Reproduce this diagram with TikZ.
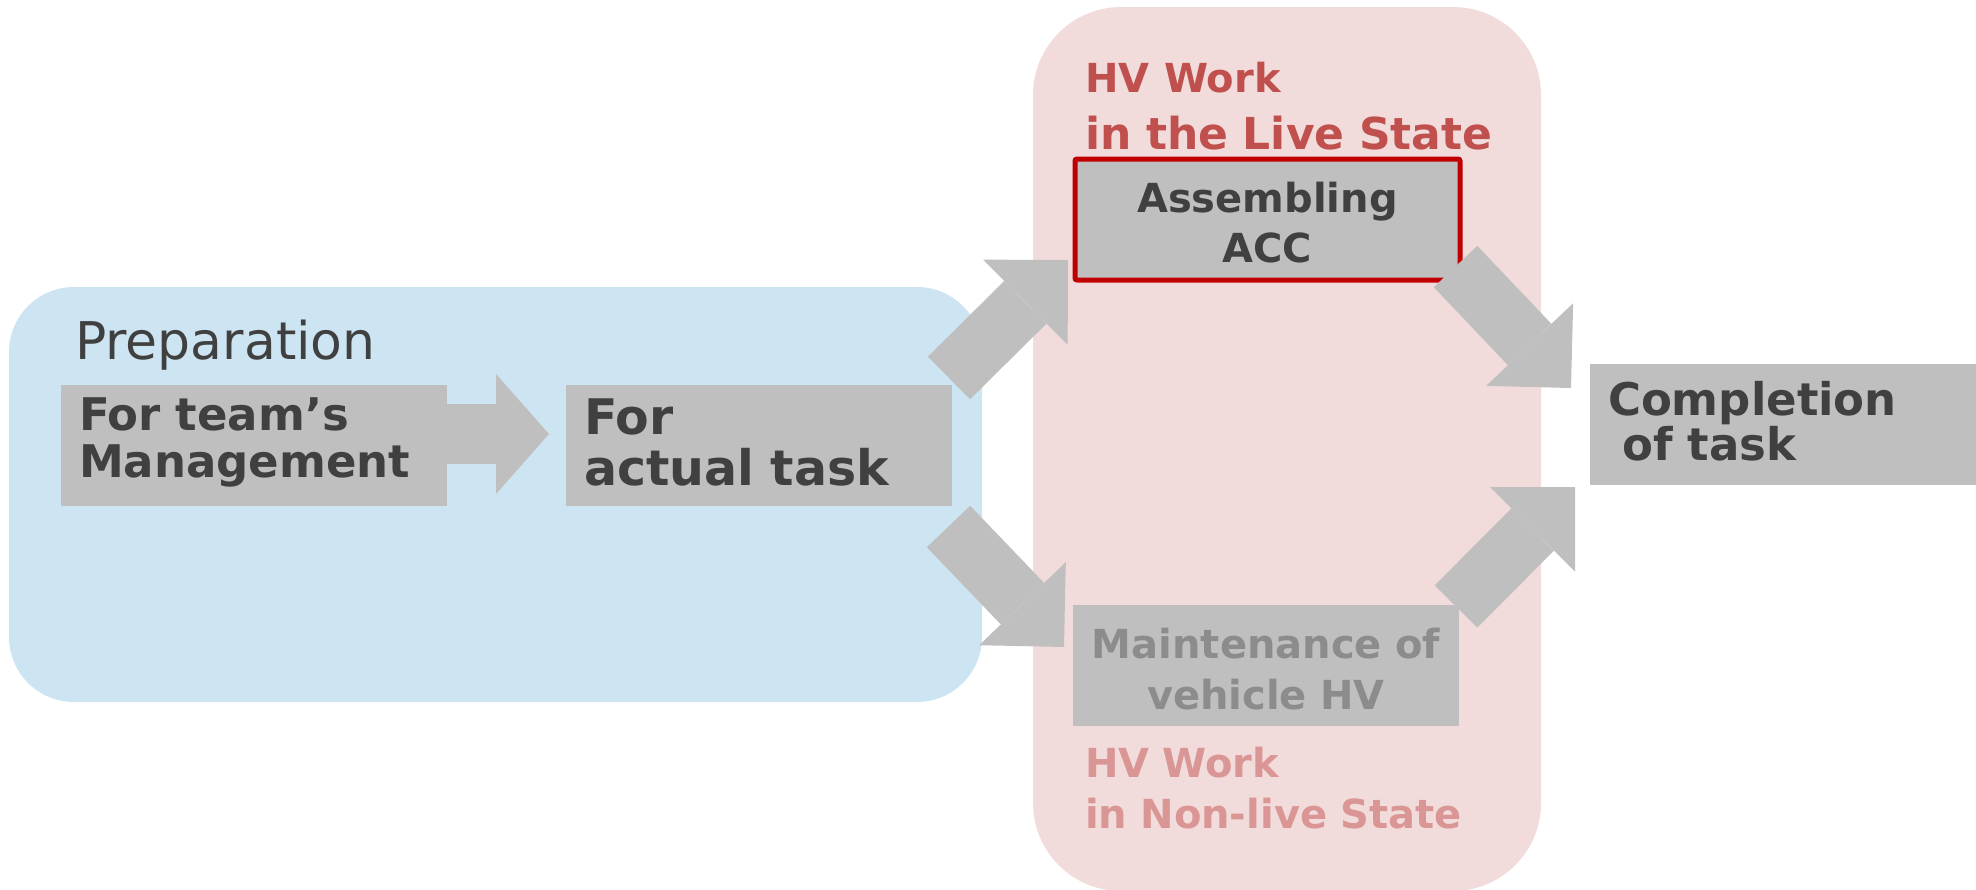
\documentclass[tikz,border=0pt]{standalone}
\usepackage{fontspec}
\setmainfont{DejaVu Sans}
\usetikzlibrary{arrows.meta,positioning,calc}
\definecolor{skyfill}{HTML}{CDE5F2}
\definecolor{rosefill}{HTML}{F2DCDB}
\definecolor{boxgray}{HTML}{BFBFBF}
\definecolor{ink}{HTML}{404040}
\definecolor{livered}{HTML}{C0504D}
\definecolor{deadred}{HTML}{D99694}
\definecolor{mutedtext}{HTML}{8C8C8C}
\definecolor{accred}{HTML}{C00000}
\newcommand{\fsz}[2]{\bfseries\fontsize{#1}{#2}\selectfont}
\tikzset{area/.style={inner sep=0pt,outer sep=0pt,anchor=north west},graybox/.style={fill=boxgray,inner ysep=0pt,inner xsep=18pt,outer sep=0pt,anchor=north west,text=ink},title/.style={inner sep=0pt,outer sep=0pt,anchor=base west,text width=460pt,align=left},bigarrow/.style={draw=boxgray,line width=60pt,-{Triangle[length=#1,width=120pt,line width=0pt]}},bigarrow/.default=60pt}

\begin{document}
\begin{tikzpicture}[x=1pt,y=-1pt]
\useasboundingbox (0,0) rectangle (1976,889);
% the two phases
\node[area,fill=skyfill,rounded corners=65pt,minimum width=973pt,minimum height=415pt] (prepArea) at (9,287) {};
\node[area,fill=rosefill,rounded corners=88pt,minimum width=508pt,minimum height=884pt] (hvArea) at (1033,7) {};
\node[anchor=base west,inner sep=0pt,text=ink,font=\fontsize{52}{60}\selectfont] (prepTitle) at (75,359) {Preparation};
\node[title,text=livered,font=\fsz{44}{57}] (liveTitle) at (1085,92) {{\fontsize{40}{57}\selectfont HV Work}\\in the Live State};
\node[title,text=deadred,font=\fsz{40}{51}] (deadTitle) at (1085,777) {HV Work\\in Non-live State};
% steps
\node[graybox,text width=350pt,align=left,text height=45pt,text depth=76pt,font=\fsz{45}{47}] (mgmt) at (61,385) {For team's\\Management};
\node[graybox,text width=350pt,align=left,text height=49pt,text depth=72pt,font=\fsz{49}{51}] (actual) at (566,385) {For\\actual task};
\node[graybox,draw=accred,line width=5pt,rounded corners=2pt,text width=349pt,align=center,text height=53pt,text depth=68pt,font=\fsz{40}{50}] (acc) at (1075,159) {Assembling\\ACC};
\node[graybox,text=mutedtext,text width=350pt,align=center,text height=53pt,text depth=68pt,font=\fsz{40}{51}] (maint) at (1073,605) {Maintenance of\\vehicle HV};
\node[graybox,text width=350pt,align=left,text height=51pt,text depth=70pt,font=\fsz{45}{45}] (done) at (1590,364) {Completion\\\hspace*{.32em}of task};
% block arrows
\draw[bigarrow=53pt] ([shift={(0,-11.5)}]mgmt.east) -- ([shift={(-17,-11.5)}]actual.west);
\draw[bigarrow] ([shift={(-3,-7)}]actual.north east) -- ([shift={(-7,-20)}]acc.south west);
\draw[bigarrow] ([shift={(-3.5,20.5)}]actual.south east) -- ([shift={(-9,-18.5)}]maint.west);
\draw[bigarrow] ([shift={(-4.5,-13.5)}]acc.south east) -- ([shift={(-19,-36.5)}]done.west);
\draw[bigarrow] ([shift={(-3,1.5)}]maint.north east) -- ([shift={(-15,2)}]done.south west);
\end{tikzpicture}
\end{document}
